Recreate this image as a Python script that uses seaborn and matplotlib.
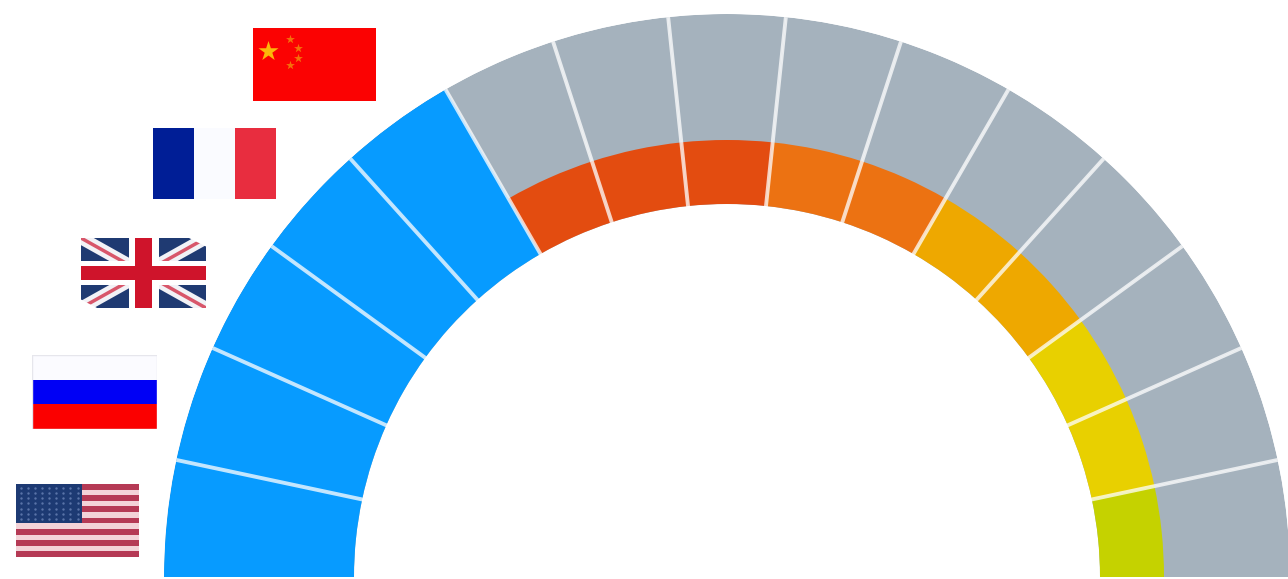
import numpy as np
import pandas as pd
import matplotlib
matplotlib.use('Agg')
import matplotlib.pyplot as plt
from matplotlib.patches import Polygon, Rectangle
import seaborn as sns

W, H = 1288, 579

# one entry per sector, left to right
levels = ['blue'] * 5 + ['red'] * 3 + ['orange'] * 2 + ['amber'] * 2 + ['yellow'] * 2 + ['lime']
level_values = [190] * 5 + [64] * 10
track_values = [190] * 15
hole = 373

palette = {'blue': '#079bff', 'red': '#e34c10', 'orange': '#ec7212', 'amber': '#eea800',
           'yellow': '#e8d000', 'lime': '#c5d200', 'track': '#a5b2bd'}

sns.set_theme(style='white')

n = len(levels)
df = pd.DataFrame({'theta': np.pi * (np.arange(n) + 0.5) / n,
                   'level': levels, 'value': level_values, 'track': track_values})

cx, cy = 727, 577
R = hole + track_values[0]
fig = plt.figure(figsize=(W / 100, H / 100), dpi=100)
ax = fig.add_axes([(cx - R) / W, (H - cy - R) / H, 2 * R / W, 2 * R / H], projection='polar')
ax.set_theta_zero_location('W')
ax.set_theta_direction(-1)

# grey track first, coloured part over it
sns.barplot(df, x='theta', y='track', color=palette['track'], saturation=1, native_scale=True,
            width=1, bottom=hole, errorbar=None, ax=ax, linewidth=0)
sns.barplot(df, x='theta', y='value', hue='level', palette=palette, saturation=1, native_scale=True,
            dodge=False, width=1, bottom=hole, errorbar=None, legend=False, ax=ax, linewidth=0)

# separators between sectors
ax.vlines(np.pi * np.arange(1, n) / n, hole - 2, R + 2, color='white', alpha=0.75, lw=2.8)
ax.set_xlim(0, 2 * np.pi)
ax.set_ylim(0, R)
ax.axis('off')


def flag_axes(x0, y0, x1, y1):
    # picture pixels, y down
    a = fig.add_axes([x0 / W, 1 - y1 / H, (x1 - x0) / W, (y1 - y0) / H])
    a.set_xlim(0, 1)
    a.set_ylim(0, 1)
    a.axis('off')
    return a


def stripes(a, colors, vertical=False):
    k = len(colors)
    for i, c in enumerate(colors):
        if vertical:
            a.add_patch(Rectangle((i / k, 0), 1 / k, 1, color=c, lw=0))
        else:
            a.add_patch(Rectangle((0, 1 - (i + 1) / k), 1, 1 / k, color=c, lw=0))


# China
a = flag_axes(253, 28, 376, 101)
stripes(a, ['#fb0202'])
a.scatter([0.125], [0.69], marker='*', s=230, color='#fbb80a', lw=0)
a.scatter([0.30, 0.366, 0.366, 0.30], [0.85, 0.73, 0.59, 0.49], marker='*', s=45, color='#f5700a', lw=0)

# France
a = flag_axes(153, 128, 276, 199)
stripes(a, ['#001e96', '#fafbff', '#e82d3f'], vertical=True)

# UK
a = flag_axes(81, 238, 206, 308)
stripes(a, ['#1f3a72'])
for lw, col in [(9, '#f2f2f6'), (2.5, '#d8566a')]:
    a.plot([0, 1], [1, 0], color=col, lw=lw, solid_capstyle='butt', zorder=1)
    a.plot([0, 1], [0, 1], color=col, lw=lw, solid_capstyle='butt', zorder=1)
a.add_patch(Rectangle((0.38, 0), 0.24, 1, color='white', lw=0, zorder=2))
a.add_patch(Rectangle((0, 0.33), 1, 0.34, color='white', lw=0, zorder=2))
a.add_patch(Rectangle((0.43, 0), 0.14, 1, color='#cf142b', lw=0, zorder=3))
a.add_patch(Rectangle((0, 0.40), 1, 0.20, color='#cf142b', lw=0, zorder=3))
a.add_patch(Polygon([(0.85, 1.02), (1.02, 1.02), (1.02, 0.86)], color='white', lw=0, zorder=4))
a.add_patch(Polygon([(-0.02, -0.02), (0.15, -0.02), (-0.02, 0.14)], color='white', lw=0, zorder=4))

# Russia
a = flag_axes(32, 355, 157, 429)
stripes(a, ['#fbfbff', '#0000f5', '#fb0000'])
a.add_patch(Rectangle((0, 0), 1, 1, fill=False, ec='#e6e6ec', lw=1))

# USA
a = flag_axes(16, 484, 139, 557)
stripes(a, ['#b53a55', '#f3d3d8'] * 6 + ['#b53a55'])
a.add_patch(Rectangle((0, 0.47), 0.54, 0.53, color='#1d3a73', lw=0))
gx, gy = np.meshgrid(np.linspace(0.04, 0.50, 9), np.linspace(0.52, 0.95, 7))
a.scatter(gx.ravel(), gy.ravel(), s=3, color='#5a74a8', lw=0)

fig.savefig('out.png', dpi=100)
